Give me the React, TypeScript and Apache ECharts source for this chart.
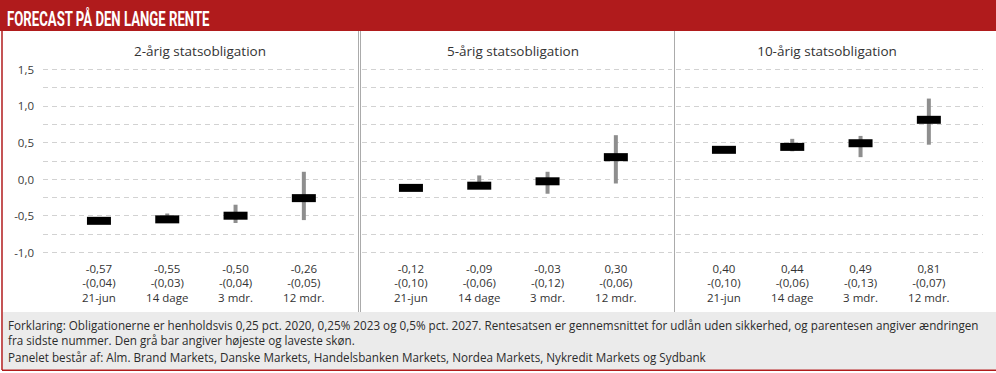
import React, { useEffect, useRef } from "react";
import * as echarts from "echarts";

const categories = ["21-jun", "14 dage", "3 mdr.", "12 mdr."];
const panelTitles = ["2-årig statsobligation", "5-årig statsobligation", "10-årig statsobligation"];

const mean2 = [-0.57, -0.55, -0.5, -0.26];
const change2 = [0.04, 0.03, 0.04, 0.05];
const low2 = [-0.6, -0.6, -0.6, -0.56];
const high2 = [-0.55, -0.47, -0.35, 0.1];

const mean5 = [-0.12, -0.09, -0.03, 0.3];
const change5 = [0.1, 0.06, 0.12, 0.06];
const low5 = [-0.15, -0.13, -0.2, -0.06];
const high5 = [-0.1, 0.05, 0.1, 0.6];

const mean10 = [0.4, 0.44, 0.49, 0.81];
const change10 = [0.1, 0.06, 0.13, 0.07];
const low10 = [0.37, 0.38, 0.3, 0.47];
const high10 = [0.43, 0.55, 0.59, 1.1];

const yTicks = { min: -1, max: 1.5, interval: 0.25 };

const headerText = "FORECAST PÅ DEN LANGE RENTE";
const footerLines = [
  "Forklaring: Obligationerne er henholdsvis 0,25 pct. 2020, 0,25% 2023 og 0,5% pct. 2027. Rentesatsen er gennemsnittet for udlån uden sikkerhed, og parentesen angiver ændringen",
  "fra sidste nummer. Den grå bar angiver højeste og laveste skøn.",
  "Panelet består af: Alm. Brand Markets, Danske Markets, Handelsbanken Markets, Nordea Markets, Nykredit Markets og Sydbank",
];

const panelData = [
  { mean: mean2, change: change2, low: low2, high: high2 },
  { mean: mean5, change: change5, low: low5, high: high5 },
  { mean: mean10, change: change10, low: low10, high: high10 },
];

const fmt = (v: number) => v.toFixed(2).replace(".", ",");

function measure(text: string, font: string) {
  const c = document.createElement("canvas").getContext("2d");
  if (!c) return 1;
  c.font = font;
  return c.measureText(text).width;
}

export default function App() {
  const ref = useRef<HTMLDivElement>(null);
  useEffect(() => {
    document.body.style.margin = "0";
    if (!ref.current) return;
    const chart = echarts.init(ref.current, undefined, { renderer: "svg" });

    const gridTop = 69.3;
    const gridH = 183;
    const layout = [
      { bgL: 43, bgR: 355, dL: 64.8, dW: 273.2, tX: 200 },
      { bgL: 362, bgR: 672, dL: 376.8, dW: 273.2, tX: 513 },
      { bgL: 676, bgR: 983, dL: 689.8, dW: 273.2, tX: 827 },
    ];

    const grids: any[] = [];
    const xAxes: any[] = [];
    const yAxes: any[] = [];
    const series: any[] = [];

    layout.forEach((p, i) => {
      const pd = panelData[i];
      grids.push({ left: p.bgL, width: p.bgR - p.bgL, top: gridTop, height: gridH, containLabel: false });
      xAxes.push({ gridIndex: 2 * i, type: "value", min: 0, max: 1, show: false });
      yAxes.push({
        gridIndex: 2 * i,
        type: "value",
        min: yTicks.min,
        max: yTicks.max,
        interval: yTicks.interval,
        axisLine: { show: false },
        axisTick: { show: false },
        splitLine: { show: true, lineStyle: { color: "#d2d2d2", type: [5, 4], width: 1 } },
        axisLabel: {
          show: i === 0,
          margin: 9,
          fontSize: 11.5,
          color: "#3a3a3a",
          fontFamily: "Open Sans",
          formatter: (v: number) => (Math.round(v * 4) % 2 === 0 ? v.toFixed(1).replace(".", ",") : ""),
        },
      });
      grids.push({ left: p.dL, width: p.dW, top: gridTop, height: gridH, containLabel: false });
      xAxes.push({
        gridIndex: 2 * i + 1,
        type: "category",
        data: categories,
        axisLine: { show: false },
        axisTick: { show: false },
        splitLine: { show: false },
        axisLabel: {
          margin: 9,
          fontSize: 11.5,
          lineHeight: 14.3,
          color: "#333",
          fontFamily: "Open Sans",
          interval: 0,
          formatter: (value: string, idx: number) =>
            `${fmt(pd.mean[idx])}\n-(${fmt(pd.change[idx])})\n${value}`,
        },
      });
      yAxes.push({
        gridIndex: 2 * i + 1,
        type: "value",
        min: yTicks.min,
        max: yTicks.max,
        interval: yTicks.interval,
        show: false,
        splitLine: { show: false },
      });
      series.push({
        type: "custom",
        xAxisIndex: 2 * i + 1,
        yAxisIndex: 2 * i + 1,
        data: categories.map((_, k) => [k, pd.mean[k], pd.low[k], pd.high[k]]),
        renderItem: (params: any, api: any) => {
          const idx = api.value(0);
          const x = api.coord([idx, 0])[0];
          const yM = api.coord([idx, api.value(1)])[1];
          const yL = api.coord([idx, api.value(2)])[1];
          const yH = api.coord([idx, api.value(3)])[1];
          return {
            type: "group",
            children: [
              { type: "rect", shape: { x: x - 2, y: yH, width: 4, height: yL - yH }, style: { fill: "#8e8e8e" } },
              { type: "rect", shape: { x: x - 12, y: yM - 4, width: 24, height: 8 }, style: { fill: "#000" } },
            ],
          };
        },
      });
    });

    const titleFont = 'bold 21px Roboto';
    const titleScale = 203 / measure(headerText, titleFont);
    const footFont = '13px "Open Sans"';
    const footScale = 971 / measure(footerLines[0], footFont);

    const graphic: any[] = [
      { type: "rect", z: -10, shape: { x: 0, y: 0, width: 996, height: 31 }, style: { fill: "#b01b1c" } },
      {
        type: "text",
        z: 10,
        x: 7,
        y: 18.5,
        scaleX: titleScale,
        style: { text: headerText, fill: "#fff", font: titleFont, textVerticalAlign: "middle" },
      },
      { type: "rect", z: -10, shape: { x: 3, y: 312, width: 993, height: 57.5 }, style: { fill: "#ebebeb" } },
      { type: "line", z: 5, shape: { x1: 2, y1: 31, x2: 2, y2: 370 }, style: { stroke: "#b01b1c", lineWidth: 1.5 } },
      { type: "line", z: 5, shape: { x1: 2, y1: 370.25, x2: 996, y2: 370.25 }, style: { stroke: "#b01b1c", lineWidth: 1.5 } },
      { type: "line", z: 5, shape: { x1: 358.5, y1: 31, x2: 358.5, y2: 312 }, style: { stroke: "#ababab", lineWidth: 1 } },
      { type: "line", z: 5, shape: { x1: 360.5, y1: 31, x2: 360.5, y2: 312 }, style: { stroke: "#ababab", lineWidth: 1 } },
      { type: "line", z: 5, shape: { x1: 674.5, y1: 31, x2: 674.5, y2: 312 }, style: { stroke: "#ababab", lineWidth: 1 } },
    ];
    layout.forEach((p, i) => {
      graphic.push({
        type: "text",
        z: 10,
        x: p.tX,
        y: 51,
        style: {
          text: panelTitles[i],
          fill: "#333",
          font: '13.5px "Open Sans"',
          textAlign: "center",
          textVerticalAlign: "middle",
        },
      });
    });
    const footY = [325, 340.5, 357.5];
    footerLines.forEach((t, i) => {
      graphic.push({
        type: "text",
        z: 10,
        x: 8,
        y: footY[i],
        scaleX: footScale,
        style: { text: t, fill: "#2b2b2b", font: footFont, textVerticalAlign: "middle" },
      });
    });

    chart.setOption({
      animation: false,
      backgroundColor: "#fff",
      grid: grids,
      xAxis: xAxes,
      yAxis: yAxes,
      series,
      graphic,
    });
    return () => chart.dispose();
  }, []);
  return <div ref={ref} style={{ width: 996, height: 373 }} />;
}
